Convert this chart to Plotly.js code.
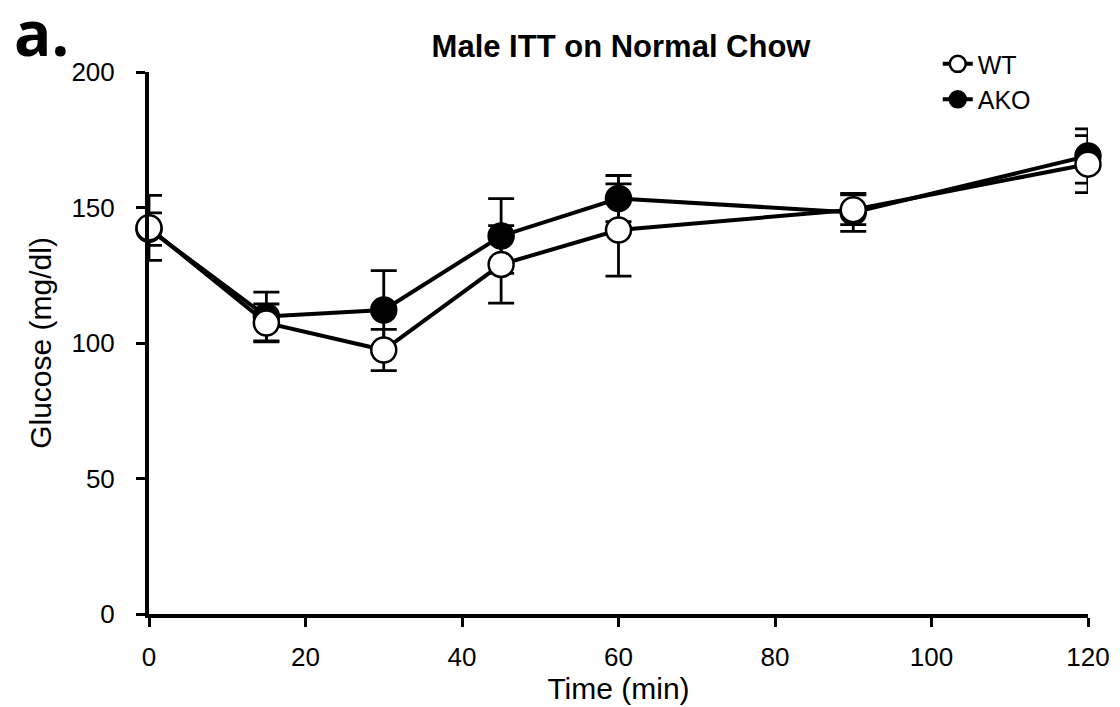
<!DOCTYPE html>
<html>
<head>
<meta charset="utf-8">
<script src="https://cdn.plot.ly/plotly-3.0.1.min.js"></script>
<style>html,body{margin:0;padding:0;background:#fff}#chart{width:1120px;height:707px}</style>
</head>
<body>
<div id="chart"></div>
<script>
const timeMin = [0, 15, 30, 45, 60, 90, 120];
const wtGlucose = [142.5, 107.4, 97.4, 129, 141.7, 149.2, 166];
const wtError = [12, 7, 7.6, 14.3, 17, 5.5, 10.5];
const akoGlucose = [142, 109.8, 112.2, 139.5, 153.3, 148.2, 169];
const akoError = [6, 9, 14.5, 13.8, 8.5, 7, 10];
const xTicks = [0, 20, 40, 60, 80, 100, 120];
const yTicks = [0, 50, 100, 150, 200];

const font = 'Liberation Sans, Arial, sans-serif';

const ako = {
  x: timeMin, y: akoGlucose, name: 'AKO', type: 'scatter', mode: 'lines+markers',
  line: {color: '#000', width: 4},
  marker: {symbol: 'circle', size: 25, color: '#000', line: {color: '#000', width: 2.5}},
  error_y: {type: 'data', array: akoError, visible: true, color: '#000', thickness: 2.8, width: 13},
  cliponaxis: false, legendrank: 2
};
const wt = {
  x: timeMin, y: wtGlucose, name: 'WT', type: 'scatter', mode: 'lines+markers',
  line: {color: '#000', width: 4},
  marker: {symbol: 'circle', size: 25, color: '#fff', line: {color: '#000', width: 2.5}},
  error_y: {type: 'data', array: wtError, visible: true, color: '#000', thickness: 2.8, width: 13},
  cliponaxis: false, legendrank: 1
};

const layout = {
  width: 1120, height: 707,
  margin: {l: 149, r: 32, t: 72, b: 93},
  paper_bgcolor: '#fff', plot_bgcolor: '#fff',
  font: {family: font, color: '#000', size: 25},
  title: {text: '<b>Male ITT on Normal Chow</b>', x: 0.5545, xanchor: 'center', y: 0.935, yanchor: 'middle',
          font: {family: font, size: 31, color: '#000'}},
  xaxis: {
    range: [0, 120], tickvals: xTicks, ticktext: xTicks.map(String),
    showgrid: false, zeroline: false, showline: true, linecolor: '#000', linewidth: 4,
    ticks: 'outside', ticklen: 9, tickwidth: 3, tickcolor: '#000', ticklabelstandoff: 8,
    tickfont: {family: font, size: 26, color: '#000'},
    title: {text: 'Time (min)', font: {family: font, size: 30, color: '#000'}, standoff: 2}
  },
  yaxis: {
    range: [0, 200], tickvals: yTicks, ticktext: yTicks.map(String),
    showgrid: false, zeroline: false, showline: true, linecolor: '#000', linewidth: 4,
    ticks: 'outside', ticklen: 9, tickwidth: 3, tickcolor: '#000', ticklabelstandoff: 16,
    tickfont: {family: font, size: 26, color: '#000'},
    title: {text: 'Glucose (mg/dl)', font: {family: font, size: 30, color: '#000'}, standoff: 12}
  },
  showlegend: true,
  legend: {x: 0.84, y: 1.057, xanchor: 'left', yanchor: 'top', bgcolor: 'rgba(0,0,0,0)',
           font: {family: font, size: 25, color: '#000'}, itemwidth: 30, tracegroupgap: 0},
  annotations: [{
    text: '<b>a.</b>', xref: 'paper', yref: 'paper', x: -0.1456, y: 1.155, xanchor: 'left', yanchor: 'top',
    showarrow: false, font: {family: 'Open Sans, sans-serif', size: 62, color: '#000'}
  }]
};

Plotly.newPlot('chart', [ako, wt], layout, {displayModeBar: false});
</script>
</body>
</html>
